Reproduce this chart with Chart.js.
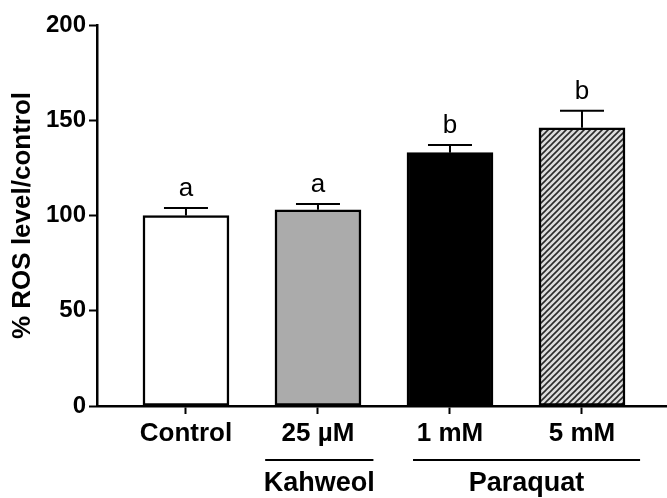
<!DOCTYPE html>
<html>
<head>
<meta charset="utf-8">
<title>% ROS level/control</title>
<script src="https://cdn.jsdelivr.net/npm/chart.js@4.4.1/dist/chart.umd.min.js"></script>
<style>
  html, body { margin: 0; padding: 0; background: #fff; }
  #wrap { width: 667px; height: 498px; position: relative; }
</style>
</head>
<body>
<div id="wrap"><canvas id="ros-chart"></canvas></div>
<script>
// ── Data ──────────────────────────────────────────────────────────────
const categories = ['Control', '25 µM', '1 mM', '5 mM'];
const rosValues  = [100, 103, 133, 146];     // mean % ROS level/control
const rosErrTop  = [104, 106, 137, 155];     // mean + SEM
const sigLetters = ['a', 'a', 'b', 'b'];
const yTicks     = [0, 50, 100, 150, 200];

// treatment groups under the category labels (from / to in category units)
const groupNames = ['Kahweol', 'Paraquat'];
const groupFrom  = [0.60, 1.72];
const groupTo    = [1.42, 3.44];

// ── Fills ─────────────────────────────────────────────────────────────
const FONT = '"Liberation Sans", Arial, Helvetica, sans-serif';

function makeHatch() {
  const s = 6;
  const c = document.createElement('canvas');
  c.width = s; c.height = s;
  const g = c.getContext('2d');
  g.fillStyle = '#dcdcdc';
  g.fillRect(0, 0, s, s);
  g.strokeStyle = '#2a2a2a';
  g.lineWidth = 1.6;
  g.beginPath();
  g.moveTo(0, s);           g.lineTo(s, 0);
  g.moveTo(-s / 2, s / 2);  g.lineTo(s / 2, -s / 2);
  g.moveTo(s / 2, s * 1.5); g.lineTo(s * 1.5, s / 2);
  g.stroke();
  return g.createPattern(c, 'repeat');
}

const barFills = ['#ffffff', '#ababab', '#000000', makeHatch()];

// ── Plugin: error bars, letters, group lines ─────────────────────────
const annotate = {
  id: 'annotate',
  afterDatasetsDraw(chart) {
    const { ctx, scales: { x, y }, chartArea } = chart;
    ctx.save();
    ctx.strokeStyle = '#000';
    ctx.fillStyle = '#000';
    ctx.lineWidth = 2;

    rosValues.forEach((v, i) => {
      const px   = x.getPixelForValue(i);
      const yVal = y.getPixelForValue(v);
      const yTop = y.getPixelForValue(rosErrTop[i]);
      ctx.beginPath();
      ctx.moveTo(px, yVal);
      ctx.lineTo(px, yTop);
      ctx.moveTo(px - 22, yTop);
      ctx.lineTo(px + 22, yTop);
      ctx.stroke();

      ctx.font = '26px ' + FONT;
      ctx.textAlign = 'center';
      ctx.textBaseline = 'alphabetic';
      ctx.fillText(sigLetters[i], px, yTop - 12);
    });

    groupNames.forEach((name, i) => {
      const x0 = x.getPixelForValue(groupFrom[i]);
      const x1 = x.getPixelForValue(groupTo[i]);
      const ly = chartArea.bottom + 54;
      ctx.beginPath();
      ctx.moveTo(x0, ly);
      ctx.lineTo(x1, ly);
      ctx.stroke();
      ctx.font = 'bold 27px ' + FONT;
      ctx.textAlign = 'center';
      ctx.textBaseline = 'middle';
      ctx.fillText(name, (x0 + x1) / 2, ly + 24);
    });
    ctx.restore();
  }
};

// ── Chart ─────────────────────────────────────────────────────────────
new Chart(document.getElementById('ros-chart'), {
  type: 'bar',
  data: {
    datasets: [{
      data: rosValues.map((v, i) => ({ x: i, y: v })),
      backgroundColor: barFills,
      borderColor: '#000',
      borderWidth: 2.5,
      borderSkipped: false,
      barThickness: 86,
    }],
  },
  options: {
    responsive: true,
    maintainAspectRatio: false,
    animation: false,
    layout: { padding: { top: 25, right: 0, bottom: 0, left: 0 } },
    plugins: {
      legend: { display: false },
      tooltip: { enabled: false },
    },
    scales: {
      x: {
        type: 'linear',
        offset: false,
        min: -0.674,
        max: 3.644,
        afterBuildTicks: (scale) => {
          scale.ticks = categories.map((_, i) => ({ value: i }));
        },
        afterFit: (scale) => { scale.height = 92; },
        border: { display: true, color: '#000', width: 2.5 },
        grid: {
          offset: false,
          drawOnChartArea: false,
          drawTicks: true,
          tickLength: 8,
          tickWidth: 2,
          tickColor: '#000',
        },
        ticks: {
          autoSkip: false,
          maxRotation: 0,
          padding: 4,
          color: '#000',
          font: { family: FONT, size: 26, weight: 'bold' },
          callback: (v) => categories[v],
        },
      },
      y: {
        min: 0,
        max: 200,
        afterBuildTicks: (scale) => {
          scale.ticks = yTicks.map(v => ({ value: v }));
        },
        afterFit: (scale) => { scale.width = 97; },
        border: { display: true, color: '#000', width: 2.5 },
        grid: {
          drawOnChartArea: false,
          drawTicks: true,
          tickLength: 8,
          tickWidth: 2,
          tickColor: '#000',
        },
        ticks: {
          padding: 3,
          color: '#000',
          font: { family: FONT, size: 24, weight: 'bold' },
        },
        title: {
          display: true,
          text: '% ROS level/control',
          color: '#000',
          padding: { top: 7, bottom: 0 },
          font: { family: FONT, size: 26, weight: 'bold' },
        },
      },
    },
  },
  plugins: [annotate],
});
</script>
</body>
</html>
